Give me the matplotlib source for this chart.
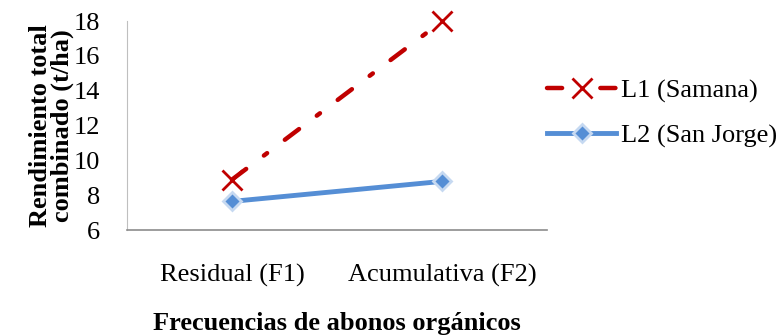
import matplotlib
matplotlib.use("Agg")
import matplotlib.pyplot as plt

categories = ["Residual (F1)", "Acumulativa (F2)"]
l1_samana = [8.9, 18.0]
l2_san_jorge = [7.65, 8.8]
yticks = [6, 8, 10, 12, 14, 16, 18]

plt.rcParams["font.family"] = ["Liberation Serif", "DejaVu Serif"]

fig = plt.figure(figsize=(7.83, 3.35), dpi=100)
ax = fig.add_axes([0.162, 0.313, 0.537, 0.624])

x = range(len(categories))
ax.plot(x, l1_samana, color="#C00000", lw=3.2, ls=(0, (4.0, 5.0, 0.9, 5.0)),
        dash_capstyle="round", solid_capstyle="round", marker="x", ms=14,
        mew=2, label="L1 (Samana)", clip_on=False)
ax.plot(x, l2_san_jorge, color="#558ED5", lw=3.5, marker="D", ms=9,
        mfc="#558ED5", mec="#C6D9F1", mew=2, label="L2 (San Jorge)",
        clip_on=False)

ax.set_xlim(-0.5, 1.5)
ax.set_ylim(6, 18)
ax.set_xticks(list(x))
ax.set_xticklabels(categories, fontsize=19)
ax.set_yticks(yticks)
ax.set_yticklabels([str(v) for v in yticks], fontsize=19)
ax.tick_params(axis="y", length=0, pad=19)
ax.tick_params(axis="x", length=0, pad=24)

for side in ["top", "right"]:
    ax.spines[side].set_visible(False)
ax.spines["left"].set_color("#BFBFBF")
ax.spines["bottom"].set_color("#8C8C8C")
ax.spines["bottom"].set_linewidth(1.2)

ax.set_ylabel("Rendimiento total\ncombinado (t/ha)", fontsize=19,
              fontweight="bold", labelpad=0, linespacing=0.9)
ax.set_xlabel("Frecuencias de abonos orgánicos", fontsize=19,
              fontweight="bold", labelpad=18)

leg = ax.legend(loc="center left", bbox_to_anchor=(1.0, 0.56), frameon=False,
                fontsize=19, handlelength=2.6, handletextpad=0.2,
                labelspacing=0.8, borderaxespad=0, borderpad=0)
# legend sample in the reference: dash, cross, dash
leg.get_lines()[0].set_linestyle((0, (3.4, 8.6)))

fig.savefig("out.png", dpi=100)
